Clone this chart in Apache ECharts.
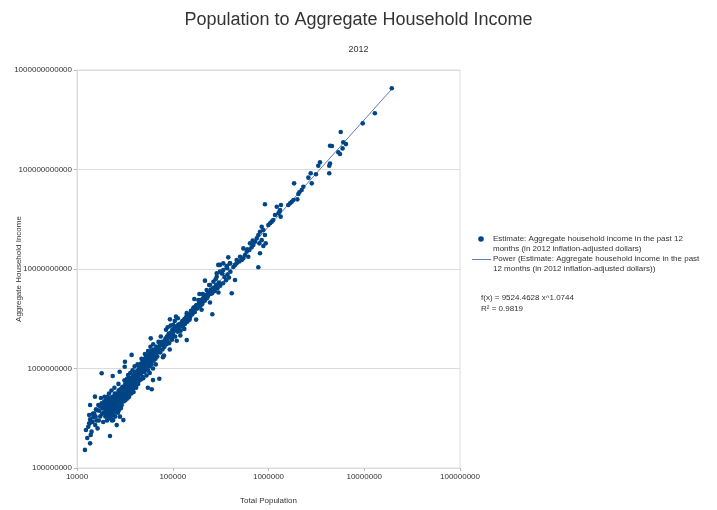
<!DOCTYPE html>
<html>
<head>
<meta charset="utf-8">
<script src="https://cdn.jsdelivr.net/npm/echarts@6/dist/echarts.min.js"></script>
<style>
  html, body { margin: 0; padding: 0; background: #ffffff; }
  #chart { width: 717px; height: 510px; }
</style>
</head>
<body>
<div id="chart"></div>
<script>
// ---- chart text ----
const chartTitle = 'Population to Aggregate Household Income';
const chartYear = '2012';
const xAxisTitle = 'Total Population';
const yAxisTitle = 'Aggregate Household Income';
const estimateName = 'Estimate: Aggregate household income in the past 12 months (in 2012 inflation-adjusted dollars)';
const powerName = 'Power (Estimate: Aggregate household income in the past 12 months (in 2012 inflation-adjusted dollars))';
const estimateKey = 'Estimate: Aggregate household income in the past 12\nmonths (in 2012 inflation-adjusted dollars)';
const powerKey = 'Power (Estimate: Aggregate household income in the past\n12 months (in 2012 inflation-adjusted dollars))';

// ---- axis ranges (decades on both log axes) ----
const populationRange = [1e4, 1e8];
const incomeRange = [1e8, 1e12];

// ---- power regression reported with the data ----
const fitCoef = 9524.4628;
const fitExp = 1.0744;
const fitR2 = '0.9819';

// ---- observations: [total population, aggregate household income in $ millions] ----
const popIncome = [
  // below 20k
  [12100,152],[12400,241],[13400,281],[13700,177],[13900,215],[14200,232],[13700,308],[14800,323],[15100,354],[13400,341],
  [17100,377],[16700,430],[18100,447],[18500,398],[18100,895],[16000,300],[15500,270],[17500,330],[19000,360],[19200,420],
  [18800,290],[16400,250],[17800,505],[19400,520],[15800,390],[15400,521],[13700,430],[19600,470],[19800,330],[14500,290],
  [12800,200],[13100,260],[14000,290],[14600,350],[15600,330],[16300,380],[17300,420],[18300,350],[19100,460],[16900,300],
  // 20k - 30k
  [20100,370],[20300,410],[20200,330],[20500,450],[20600,300],[20800,390],[20400,355],[20900,470],[21000,420],[21200,345],
  [21300,380],[21500,440],[21400,315],[21700,400],[21800,365],[22000,480],[22100,210],[22200,420],[22400,350],[22500,395],
  [22700,455],[22800,330],[23000,410],[23100,500],[23300,375],[23500,430],[23600,841],[23800,395],[23900,303],[24000,460],
  [24200,520],[24300,410],[24500,370],[24700,445],[24800,480],[25000,395],[25200,540],[25300,430],[25500,465],[25700,380],
  [25900,500],[26000,270],[26100,440],[26300,560],[26500,475],[26700,410],[26900,520],[27000,455],[27200,600],[27400,490],
  [27600,430],[27800,540],[28000,470],[28100,328],[28300,510],[28500,580],[28700,455],[28900,620],[29000,500],[29200,540],
  [29500,470],[29700,650],[29900,560],[20700,520],[21600,560],[22900,600],[24600,640],[23200,300],[25100,330],[26800,360],
  [28800,400],[27100,700],[20050,440],[20250,480],[20450,395],[20650,350],[21100,490],[21900,430],[22600,510],[23400,470],
  [24100,350],[24900,560],[25600,420],[26400,510],[27300,380],[27900,610],[29300,430],[29800,600],[30500,303],
  [20150,400],[20350,460],[20550,380],[20750,430],[20950,360],[21150,450],[21350,410],[21550,470],[21750,340],[21950,455],
  [22150,390],[22350,470],[22550,430],[22750,380],[22950,500],[23150,450],[23350,410],[23550,520],[23750,460],[23950,420],
  [24150,490],[24350,440],[24550,530],[24750,400],[24950,470],[25150,500],[25350,380],[25550,540],[25750,470],[25950,430],
  [26150,480],[26350,420],[26550,530],[26750,470],[26950,440],[27150,520],[27350,460],[27550,570],[27750,500],[27950,450],
  [28150,560],[28350,470],[28550,520],[28750,590],[28950,450],[29150,580],[29350,520],[29550,560],[29750,500],[29950,620],
  [27900,929],
  // 30k - 45k
  [30200,560],[30400,610],[30700,530],[31000,640],[31200,580],[31500,500],[31700,1170],[31900,620],[32200,680],[32400,560],
  [32700,600],[33000,700],[33200,540],[33500,650],[33800,610],[34000,720],[34300,580],[34600,670],[34900,750],[35200,630],
  [35500,690],[35800,560],[36100,780],[36400,700],[36700,640],[37000,740],[37200,1370],[37400,680],[37700,810],[38000,720],
  [38300,620],[38600,790],[38900,700],[39200,850],[39500,760],[39800,690],[40100,820],[40400,880],[40700,740],[41000,800],
  [41400,910],[41800,700],[42200,850],[42600,950],[43000,780],[43400,900],[43800,820],[44200,980],[44600,870],[45000,760],
  [32000,480],[33600,500],[35000,520],[36900,560],[31300,760],[34200,860],[36000,900],[38100,960],[40000,1050],[39000,580],
  [41500,640],[43500,700],[30900,470],[33300,790],[35600,610],[37900,660],[42900,1100],[44800,1040],
  [30100,600],[30300,520],[30600,660],[30800,580],[31100,540],[31400,650],[31600,600],[31800,560],[32100,710],[32300,620],
  [32600,650],[32800,570],[33100,640],[33400,720],[33700,680],[33900,600],[34100,660],[34400,760],[34700,630],[34800,700],
  [35100,740],[35400,660],[35700,760],[35900,700],[36200,650],[36500,800],[36800,720],[37100,680],[37500,770],[37800,700],
  [38200,830],[38500,740],[38800,680],[39100,780],[39400,720],[39700,880],[40300,760],[40900,870],[41600,830],[42400,780],
  [31500,1040],
  // 45k - 70k
  [45500,950],[46000,880],[46500,1020],[47000,900],[47500,1080],[48000,960],[48500,820],[49000,1100],[49500,1000],[50000,1150],
  [50500,920],[51000,1050],[51500,1200],[52000,980],[52500,1120],[53000,1000],[54000,1180],[54500,1080],[55000,1250],[55500,950],
  [56000,1150],[56500,1300],[57000,1050],[58000,1200],[59000,1350],[60000,1100],[61000,1280],[62000,1400],[63000,1200],[64000,1350],
  [65000,1500],[66000,1250],[67000,1420],[68000,1600],[69000,1320],[70000,1480],[47200,1250],[51200,1400],[55200,1500],[58500,1650],
  [62500,1750],[49200,800],[53200,850],[57500,900],[62200,1000],[66500,1100],[46800,780],[58900,2010],[55000,640],[60300,618],
  [45200,1000],[45800,1080],[46200,960],[46700,1120],[47800,1000],[48300,1150],[48800,1050],[49800,1200],[50200,1050],[50800,1250],
  [51800,1100],[52300,1280],[52800,1150],[53800,1050],[54300,1300],[54800,1150],[55800,1350],[56300,1200],[56800,1400],[57300,1250],
  [58300,1450],[59300,1250],[59800,1500],[60800,1380],[61500,1200],[63500,1550],[64500,1450],[65500,1350],[67500,1650],[68500,1450],
  [62200,765],
  // 70k - 150k
  [72000,1600],[74000,1450],[76000,1750],[78000,1550],[80000,1850],[82000,1650],[84000,2000],[86000,1750],[88000,1900],[90000,2150],
  [92000,1800],[94000,2050],[96000,2300],[98000,1950],[100000,2250],[103000,2500],[106000,2100],[109000,2650],[112000,2350],[115000,2550],
  [118000,2800],[121000,2400],[124000,2900],[127000,2650],[130000,3050],[134000,2800],[138000,3200],[142000,2950],[146000,3400],[150000,3100],
  [75000,2100],[85000,2450],[95000,2700],[105000,3000],[81000,1350],[93000,1550],[110000,1900],[88500,2600],[71000,1850],[79000,1300],
  [101000,2750],[113000,3200],[120000,2150],[132000,2500],[140000,3600],[72400,790],[93500,3120],[108000,3320],[140000,1930],
  [73000,1700],[77000,1850],[79500,1700],[83000,1900],[87000,2100],[89000,1800],[91000,2250],[97000,2150],[99000,2450],[102000,2100],
  [104000,2400],[107000,2600],[111000,2500],[114000,2750],[116000,2400],[119000,2650],[123000,2750],[126000,3000],[129000,2850],[133000,3150],
  [136000,2950],[139000,3350],[144000,3150],[148000,3500],[152000,3300],
  // 150k - 400k
  [155000,3800],[160000,3500],[165000,4100],[170000,3700],[175000,4300],[180000,4000],[185000,4880],[192000,4200],[198000,4900],[204000,4500],
  [206000,5610],[210000,5200],[217000,7640],[216000,4800],[222000,5500],[226000,6150],[228000,5100],[235000,5800],[245000,6900],[250000,6200],
  [259000,3510],[258000,5700],[266000,7450],[275000,6000],[288000,8380],[284000,6900],[293000,6400],[299000,11000],[303000,7300],[313000,6800],
  [324000,9050],[335000,7200],[337000,9770],[347000,8300],[360000,7700],[366000,10500],[373000,8800],[386000,8200],[396000,11400],[400000,9400],
  [168000,5000],[190000,5600],[240000,6900],[280000,7900],[330000,9000],[370000,10200],[175500,3100],[200000,3900],[245000,4600],[300000,5800],
  [288000,9060],[311000,9400],
  [158000,3700],[163000,3950],[167000,3800],[172000,4150],[178000,4350],[183000,4150],[188000,4500],[195000,4650],[201000,4400],[208000,4950],
  [213000,5100],[220000,5000],[225000,5400],[232000,5300],[238000,5700],[248000,5600],[254000,6100],[262000,6300],[270000,6500],[278000,6400],
  // 400k - 1.4M
  [380000,13100],[465000,12300],[504000,13300],[592000,14900],[413000,5700],[447000,7740],[849000,26600],[883000,24700],[815000,23700],[783000,22000],
  [918000,22000],[753000,20300],[849000,19500],[802000,18100],[723000,18800],[695000,17400],[667000,16500],[631000,15500],[600000,15800],[569000,13800],
  [615000,13300],[546000,12800],[525000,12300],[495000,11900],[465000,11400],[447000,11000],[396000,11400],[430000,10500],[366000,10700],[337000,11400],
  [311000,11000],[815000,14400],[783000,10400],[883000,17000],[918000,44700],[1220000,42300],[1320000,39200],[1270000,36300],[1170000,34900],[1340000,33600],
  [1080000,29900],[1040000,28800],[996000,27700],[1120000,31000],[684000,19300],[641000,18100],[546000,16100],[935000,18100],
  // above 1.4M
  [1750000,47400],[1680000,45700],[1610000,44000],[1820000,49300],[1850000,72600],[2310000,67100],[2220000,62200],[2100000,59000],[2050000,56800],[2000000,50100],
  [2830000,72600],[2610000,82800],[2760000,91600],[3130000,89500],[3450000,118000],[3310000,109000],[4390000,115000],[4310000,109000],[4310000,91600],[4390000,173000],
  [4600000,172000],[6040000,188000],[6440000,180000],[5940000,163000],[5360000,149000],[5580000,143000],[5680000,238000],[9640000,291000],[12900000,367000],[19400000,655000],
  [1350000,44000],[1300000,37700]
];

// ---- derived series ----
const scatterData = popIncome.map(([pop, incM]) => [pop, incM * 1e6]);
const pops = popIncome.map(d => d[0]);
const fitAt = x => fitCoef * Math.pow(x, fitExp);
const popLo = Math.min.apply(null, pops);
const popHi = Math.max.apply(null, pops);
const fitData = [[popLo, fitAt(popLo)], [popHi, fitAt(popHi)]];

const FONT = '"Liberation Sans", Arial, sans-serif';
const TEXT = '#333333';
const GRID = '#dcdcdc';
const SERIES = '#004586';
const TREND = '#5b7db8';

const chart = echarts.init(document.getElementById('chart'), null, { renderer: 'canvas' });

chart.setOption({
  animation: false,
  backgroundColor: '#ffffff',
  textStyle: { fontFamily: FONT },
  title: [
    { text: chartTitle, left: 'center', top: 6,
      textStyle: { fontFamily: FONT, fontSize: 18, fontWeight: 'normal', color: TEXT } },
    { text: chartYear, left: 'center', top: 40,
      textStyle: { fontFamily: FONT, fontSize: 9, fontWeight: 'normal', color: TEXT } }
  ],
  grid: {
    left: 77, right: 257, top: 70, bottom: 42,
    containLabel: false,
    outerBoundsMode: 'none',
    show: true, borderColor: GRID, borderWidth: 1, backgroundColor: 'transparent'
  },
  xAxis: {
    type: 'log', logBase: 10,
    min: populationRange[0], max: populationRange[1],
    name: xAxisTitle, nameLocation: 'middle', nameGap: 29, nameMoveOverlap: false,
    nameTextStyle: { fontFamily: FONT, fontSize: 8, color: TEXT },
    axisLine: { show: true, lineStyle: { color: GRID, width: 1 } },
    axisTick: { show: true, length: 3, lineStyle: { color: '#bbbbbb' } },
    minorTick: { show: false },
    splitLine: { show: false },
    axisLabel: { fontFamily: FONT, fontSize: 8, color: TEXT, margin: 5,
      formatter: v => String(Math.round(v)) }
  },
  yAxis: {
    type: 'log', logBase: 10,
    min: incomeRange[0], max: incomeRange[1],
    name: yAxisTitle, nameLocation: 'middle', nameGap: 54, nameMoveOverlap: false,
    nameTextStyle: { fontFamily: FONT, fontSize: 8, color: TEXT },
    axisLine: { show: true, lineStyle: { color: GRID, width: 1 } },
    axisTick: { show: true, length: 3, lineStyle: { color: '#bbbbbb' } },
    minorTick: { show: false },
    splitLine: { show: true, lineStyle: { color: GRID, width: 1 } },
    axisLabel: { fontFamily: FONT, fontSize: 8, color: TEXT, margin: 5,
      formatter: v => String(Math.round(v)) }
  },
  series: [
    {
      name: powerName,
      type: 'line',
      data: fitData,
      symbol: 'none',
      z: 1,
      lineStyle: { color: TREND, width: 1 },
      itemStyle: { color: TREND }
    },
    {
      name: estimateName,
      type: 'scatter',
      data: scatterData,
      symbol: 'circle',
      symbolSize: 4.6,
      z: 2,
      itemStyle: { color: SERIES, opacity: 1 }
    }
  ],
  graphic: [
    // key for the two series
    { type: 'circle', shape: { cx: 481, cy: 239, r: 2.8 }, style: { fill: SERIES } },
    { type: 'text', left: 493, top: 234,
      style: { text: estimateKey, font: '8px ' + FONT, fill: TEXT, lineHeight: 10 } },
    { type: 'line', shape: { x1: 472, y1: 259.5, x2: 491, y2: 259.5 }, style: { stroke: TREND, lineWidth: 1 } },
    { type: 'text', left: 493, top: 254,
      style: { text: powerKey, font: '8px ' + FONT, fill: TEXT, lineHeight: 10 } },
    // regression equation
    { type: 'text', left: 481, top: 294,
      style: { text: 'f(x) = ' + fitCoef.toFixed(4) + ' x^' + fitExp.toFixed(4), font: '8px ' + FONT, fill: TEXT } },
    { type: 'text', left: 481, top: 305,
      style: { text: 'R² = ' + fitR2, font: '8px ' + FONT, fill: TEXT } }
  ]
});
</script>
</body>
</html>
